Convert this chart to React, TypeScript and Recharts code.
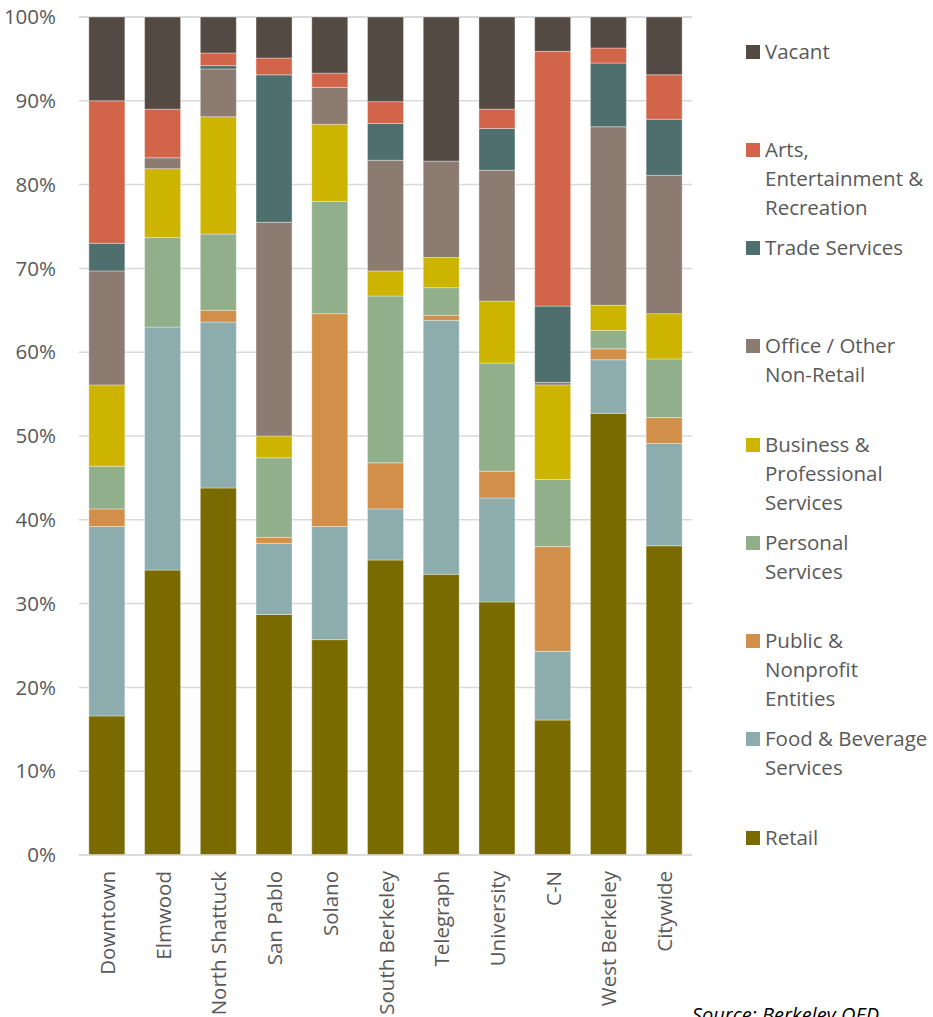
import React from 'react';
import { BarChart, Bar, XAxis, YAxis, CartesianGrid } from 'recharts';

const categories = ['Downtown', 'Elmwood', 'North Shattuck', 'San Pablo', 'Solano', 'South Berkeley', 'Telegraph', 'University', 'C-N', 'West Berkeley', 'Citywide'];

const retail = [16.6, 34.0, 43.8, 28.7, 25.7, 35.2, 33.5, 30.2, 16.1, 52.7, 36.9];
const foodBeverage = [22.6, 29.0, 19.8, 8.5, 13.5, 6.1, 30.3, 12.4, 8.2, 6.4, 12.2];
const publicNonprofit = [2.1, 0, 1.4, 0.7, 25.4, 5.5, 0.6, 3.2, 12.5, 1.3, 3.1];
const personal = [5.1, 10.7, 9.1, 9.5, 13.4, 19.9, 3.3, 12.9, 8.0, 2.2, 7.0];
const business = [9.7, 8.2, 14.0, 2.6, 9.2, 3.0, 3.6, 7.4, 11.3, 3.0, 5.4];
const office = [13.6, 1.3, 5.7, 25.5, 4.4, 13.2, 11.5, 15.6, 0.3, 21.3, 16.5];
const trade = [3.3, 0, 0.4, 17.6, 0, 4.4, 0, 5.0, 9.1, 7.6, 6.7];
const arts = [17.0, 5.8, 1.5, 2.0, 1.7, 2.6, 0, 2.3, 30.4, 1.8, 5.3];
const vacant = [10.0, 11.0, 4.3, 4.9, 6.7, 10.1, 17.2, 11.0, 4.1, 3.7, 6.9];

const seriesKeys = ['retail', 'food', 'public', 'personal', 'business', 'office', 'trade', 'arts', 'vacant'];
const seriesValues = [retail, foodBeverage, publicNonprofit, personal, business, office, trade, arts, vacant];
const seriesNames = ['Retail', 'Food & Beverage Services', 'Public & Nonprofit Entities', 'Personal Services', 'Business & Professional Services', 'Office / Other Non-Retail', 'Trade Services', 'Arts, Entertainment & Recreation', 'Vacant'];
const seriesColors = ['#7A6B00', '#8CACAD', '#D18F4A', '#90AF8A', '#CDB400', '#8B7B70', '#4F6F6F', '#D2644A', '#544A44'];

// legend (top to bottom), each entry split into its lines
const legendOrder = [8, 7, 6, 5, 4, 3, 2, 1, 0];
const legendLines = [
  ['Vacant'],
  ['Arts,', 'Entertainment &', 'Recreation'],
  ['Trade Services'],
  ['Office / Other', 'Non-Retail'],
  ['Business &', 'Professional', 'Services'],
  ['Personal', 'Services'],
  ['Public &', 'Nonprofit', 'Entities'],
  ['Food & Beverage', 'Services'],
  ['Retail'],
];

const yTicks = [0, 10, 20, 30, 40, 50, 60, 70, 80, 90, 100];

const data = categories.map((c, i) => {
  const row: Record<string, string | number> = { category: c };
  seriesKeys.forEach((k, j) => {
    row[k] = seriesValues[j][i];
  });
  return row;
});

const FONT = '"Open Sans", "DejaVu Sans", sans-serif';

const XTick = (props: any) => {
  const { x, y, payload } = props;
  return (
    <g transform={`translate(${x},${y + 16}) rotate(-90)`}>
      <text x={0} y={0} textAnchor="end" dominantBaseline="central" fontSize={20.5} fill="#595959" fontFamily={FONT}>
        {payload.value}
      </text>
    </g>
  );
};

export default function App() {
  return (
    <div style={{ position: 'absolute', left: 0, top: 0, width: 933, height: 1017, overflow: 'hidden', background: '#fff', fontFamily: FONT }}>
      <BarChart
        width={700}
        height={1017}
        data={data}
        margin={{ top: 17, right: 8, left: 0, bottom: 0 }}
        barCategoryGap="17.7%"
      >
        <CartesianGrid vertical={false} stroke="#D9D9D9" strokeWidth={1.5} />
        <XAxis
          dataKey="category"
          height={162}
          interval={0}
          tickLine={false}
          tickSize={0}
          tickMargin={0}
          axisLine={{ stroke: '#D9D9D9', strokeWidth: 1.5 }}
          tick={<XTick />}
        />
        <YAxis
          width={79}
          domain={[0, 100]}
          ticks={yTicks}
          tickFormatter={(v: number) => `${v}%`}
          axisLine={false}
          tickLine={false}
          tickSize={0}
          tickMargin={23}
          tick={{ fontSize: 20.5, fill: '#595959', fontFamily: FONT }}
        />
        {seriesKeys.map((k, j) => (
          <Bar
            key={k}
            dataKey={k}
            name={seriesNames[j]}
            stackId="a"
            fill={seriesColors[j]}
            stroke="#ffffff"
            strokeOpacity={0.35}
            strokeWidth={1}
            isAnimationActive={false}
          />
        ))}
      </BarChart>

      {legendOrder.map((si, idx) => (
        <div
          key={seriesKeys[si]}
          style={{ position: 'absolute', left: 746, top: 51 + idx * 98.25 - 14.5, width: 187 }}
        >
          <div style={{ position: 'absolute', left: 0, top: 8, width: 14, height: 14, background: seriesColors[si] }} />
          <div style={{ position: 'absolute', left: 19, top: 0, fontSize: 20.5, lineHeight: '29px', color: '#595959', whiteSpace: 'nowrap' }}>
            {legendLines[idx].map((ln, li) => (
              <div key={li}>{ln}</div>
            ))}
          </div>
        </div>
      ))}

      <div style={{ position: 'absolute', left: 692, top: 1001, fontSize: 20, fontStyle: 'italic', color: '#000', whiteSpace: 'nowrap' }}>
        Source: Berkeley OED
      </div>
    </div>
  );
}
